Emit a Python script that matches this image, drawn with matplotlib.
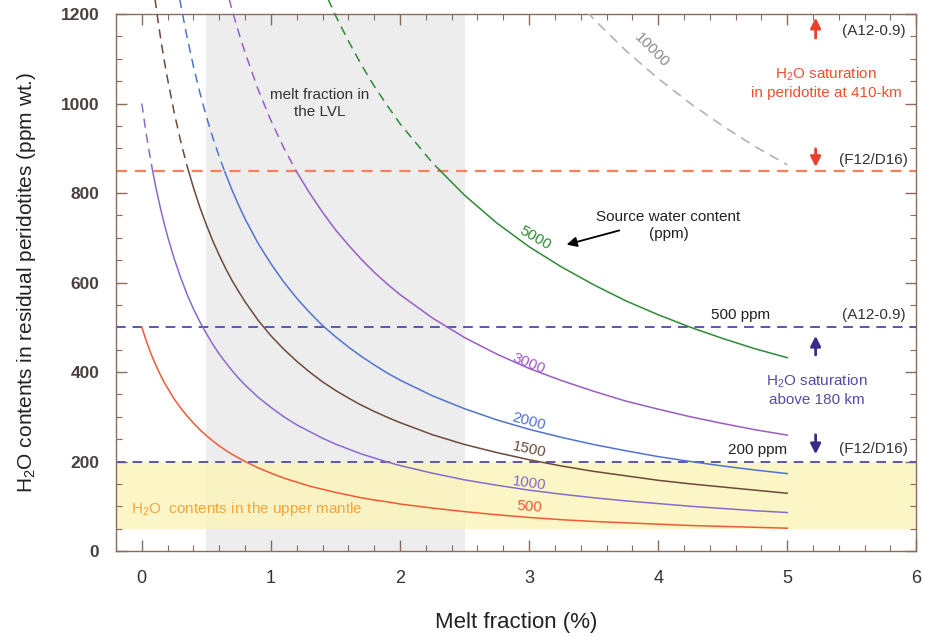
import matplotlib
matplotlib.use('Agg')
import matplotlib.pyplot as plt
from matplotlib.patches import Rectangle
from matplotlib.ticker import MultipleLocator

plt.rcParams['font.family'] = ['Liberation Sans', 'DejaVu Sans']
plt.rcParams['mathtext.default'] = 'regular'

# Melt fraction (%) grid
melt = [0, 0.025, 0.05, 0.075, 0.1, 0.125, 0.15, 0.175, 0.2, 0.25, 0.3, 0.35, 0.4, 0.45,
        0.5, 0.55, 0.6, 0.65, 0.7, 0.75, 0.8, 0.9, 1.0, 1.1, 1.2, 1.3, 1.4, 1.5, 1.6, 1.7,
        1.8, 1.9, 2.0, 2.25, 2.5, 2.75, 3.0, 3.25, 3.5, 3.75, 4.0, 4.25, 4.5, 4.75, 5.0]

# Residual H2O (ppm) for each source water content
h2o_500 = [500, 478, 457, 438, 421, 405, 390, 376, 364, 340, 320, 302, 286, 271,
           258, 246, 235, 225, 216, 208, 200, 186, 174, 163, 154, 145, 138, 131, 125, 119,
           114, 110, 105, 96, 88, 81, 75, 70, 66, 63, 60, 57, 55, 53, 51]
h2o_1000 = [1000, 950, 904, 863, 825, 791, 759, 730, 703, 654, 612, 574, 541, 512,
            486, 462, 440, 421, 403, 386, 371, 344, 321, 300, 282, 267, 252, 239, 228, 217,
            208, 199, 191, 174, 159, 147, 136, 127, 119, 112, 106, 100, 95, 90, 86]
h2o_1500 = [1500, 1425, 1356, 1294, 1238, 1186, 1138, 1094, 1054, 981, 917, 861, 812, 768,
            729, 693, 661, 631, 604, 580, 557, 516, 481, 451, 424, 400, 378, 359, 342, 326,
            312, 299, 287, 260, 238, 220, 204, 190, 178, 168, 158, 150, 143, 136, 129]
h2o_2000 = [2000, 1899, 1809, 1726, 1650, 1581, 1518, 1459, 1405, 1308, 1223, 1149, 1083, 1024,
            971, 924, 881, 842, 806, 773, 742, 688, 642, 601, 565, 533, 504, 479, 456, 435,
            416, 398, 382, 347, 318, 293, 272, 254, 238, 224, 211, 200, 190, 181, 173]
h2o_3000 = [3000, 2849, 2713, 2589, 2476, 2372, 2277, 2189, 2108, 1961, 1835, 1723, 1624, 1536,
            1457, 1386, 1321, 1262, 1208, 1159, 1114, 1032, 962, 901, 847, 800, 757, 718, 684, 652,
            623, 597, 573, 521, 477, 440, 408, 381, 357, 335, 317, 300, 285, 271, 259]
h2o_5000 = [5000, 4749, 4522, 4315, 4126, 3954, 3795, 3648, 3513, 3269, 3058, 2872, 2707, 2560,
            2429, 2310, 2202, 2104, 2014, 1932, 1856, 1721, 1604, 1502, 1412, 1332, 1261, 1197, 1140, 1087,
            1039, 996, 955, 868, 795, 733, 680, 635, 595, 559, 528, 500, 475, 452, 432]
melt_10000 = [3.0, 3.25, 3.5, 3.75, 4.0, 4.25, 4.5, 4.75, 5.0]
h2o_10000 = [1360, 1269, 1189, 1118, 1056, 1000, 950, 904, 863]

curves = [
    (h2o_500, '#f05a35', '500', 3.0, 98, -4),
    (h2o_1000, '#8a6acc', '1000', 3.0, 150, -8),
    (h2o_1500, '#6b4a3a', '1500', 3.0, 226, -12),
    (h2o_2000, '#4f74cf', '2000', 3.0, 289, -15),
    (h2o_3000, '#9a5cc6', '3000', 3.0, 419, -22),
    (h2o_5000, '#2f8a35', '5000', 3.05, 699, -30),
]

sat_410 = 850
sat_180 = [500, 200]
lvl_range = [0.5, 2.5]
mantle_range = [50, 200]

FRAME = '#8b6b5b'

fig = plt.figure(figsize=(9.25, 6.37), dpi=100)
ax = fig.add_axes([0.1254, 0.135, 0.8652, 0.843])

ax.set_xlim(-0.2, 6)
ax.set_ylim(0, 1200)

# shaded bands
ax.axvspan(lvl_range[0], lvl_range[1], color='#ededed', lw=0, zorder=0)
ax.axhspan(mantle_range[0], mantle_range[1], color='#fcf4bc', alpha=0.85, lw=0, zorder=1)

# saturation lines
ax.axhline(sat_410, color='#f4805c', lw=1.6, ls=(0, (5, 3.5)), zorder=2)
for lev in sat_180:
    ax.axhline(lev, color='#5b57aa', lw=1.4, ls=(0, (5, 3.5)), zorder=2)

for vals, col, lab, lx, ly, rot in curves:
    lo = Rectangle((-1, -10), 10, sat_410 + 10, transform=ax.transData)
    hi = Rectangle((-1, sat_410), 10, 1000, transform=ax.transData)
    l1, = ax.plot(melt, vals, color=col, lw=1.1, zorder=3)
    l1.set_clip_path(lo)
    l2, = ax.plot(melt, vals, color=col, lw=1.1, ls=(0, (6, 4)), zorder=3)
    l2.set_clip_path(hi)
    ax.text(lx, ly, lab, color=col, fontsize=11, rotation=rot,
            ha='center', va='center', zorder=5)

ax.plot(melt_10000, h2o_10000, color='#b3b3b3', lw=1.2, ls=(0, (6, 4)), zorder=3)
ax.text(3.95, 1120, '10000', color='#8a8a8a', fontsize=11, rotation=-45,
        ha='center', va='center')

# annotations
ax.text(1.38, 1000, 'melt fraction in\nthe LVL', fontsize=11, color='#333333',
        ha='center', va='center', linespacing=1.3)
ax.text(-0.08, 94, 'H$_2$O  contents in the upper mantle', fontsize=11, color='#f5a53a',
        ha='left', va='center')

ax.text(5.67, 1163, '(A12-0.9)', fontsize=11, color='#333333', ha='center', va='center')
ax.text(5.67, 874, '(F12/D16)', fontsize=11, color='#333333', ha='center', va='center')
ax.text(5.30, 1046, 'H$_2$O saturation\nin peridotite at 410-km', fontsize=11,
        color='#f0502e', ha='center', va='center', linespacing=1.3)
ax.annotate('', xy=(5.22, 1198), xytext=(5.22, 1140),
            arrowprops=dict(arrowstyle='-|>', color='#e8402a', lw=2, mutation_scale=15))
ax.annotate('', xy=(5.22, 852), xytext=(5.22, 905),
            arrowprops=dict(arrowstyle='-|>', color='#e8402a', lw=2, mutation_scale=15))

ax.text(4.64, 527, '500 ppm', fontsize=11, color='#222222', ha='center', va='center')
ax.text(5.67, 527, '(A12-0.9)', fontsize=11, color='#333333', ha='center', va='center')
ax.text(4.77, 225, '200 ppm', fontsize=11, color='#222222', ha='center', va='center')
ax.text(5.67, 228, '(F12/D16)', fontsize=11, color='#333333', ha='center', va='center')
ax.text(5.23, 360, 'H$_2$O saturation\nabove 180 km', fontsize=11,
        color='#5a48a8', ha='center', va='center', linespacing=1.3)
ax.annotate('', xy=(5.22, 487), xytext=(5.22, 432),
            arrowprops=dict(arrowstyle='-|>', color='#3a2a8a', lw=2, mutation_scale=15))
ax.annotate('', xy=(5.22, 210), xytext=(5.22, 266),
            arrowprops=dict(arrowstyle='-|>', color='#3a2a8a', lw=2, mutation_scale=15))

ax.text(4.08, 728, 'Source water content\n(ppm)', fontsize=11, color='#222222',
        ha='center', va='center', linespacing=1.3)
ax.annotate('', xy=(3.27, 683), xytext=(3.72, 718),
            arrowprops=dict(arrowstyle='-|>', color='black', lw=1.3, mutation_scale=15))

# axes styling
for sp in ax.spines.values():
    sp.set_color(FRAME)
    sp.set_linewidth(1.0)
ax.xaxis.set_major_locator(MultipleLocator(1))
ax.xaxis.set_minor_locator(MultipleLocator(0.2))
ax.yaxis.set_major_locator(MultipleLocator(200))
ax.yaxis.set_minor_locator(MultipleLocator(50))
ax.tick_params(which='both', direction='in', top=True, right=True, color=FRAME)
ax.tick_params(which='major', length=8, width=1)
ax.tick_params(which='minor', length=4, width=0.8)
ax.tick_params(axis='x', pad=14, labelsize=13, labelcolor='#333333')
ax.tick_params(axis='y', pad=12, labelsize=12.5, labelcolor='#4a4040')
for t in ax.get_yticklabels():
    t.set_fontweight('bold')
for t in ax.get_xticklabels():
    t.set_family(['Liberation Sans Narrow', 'Liberation Sans'])

ax.set_xlabel('Melt fraction (%)', fontsize=16, color='#222222', labelpad=18,
              family=['Liberation Sans Narrow', 'Liberation Sans'])
ax.set_ylabel('H$_2$O contents in residual peridotites (ppm wt.)', fontsize=15,
              color='#222222', labelpad=16)

fig.savefig('out.png', dpi=100, facecolor='white')
plt.close(fig)
